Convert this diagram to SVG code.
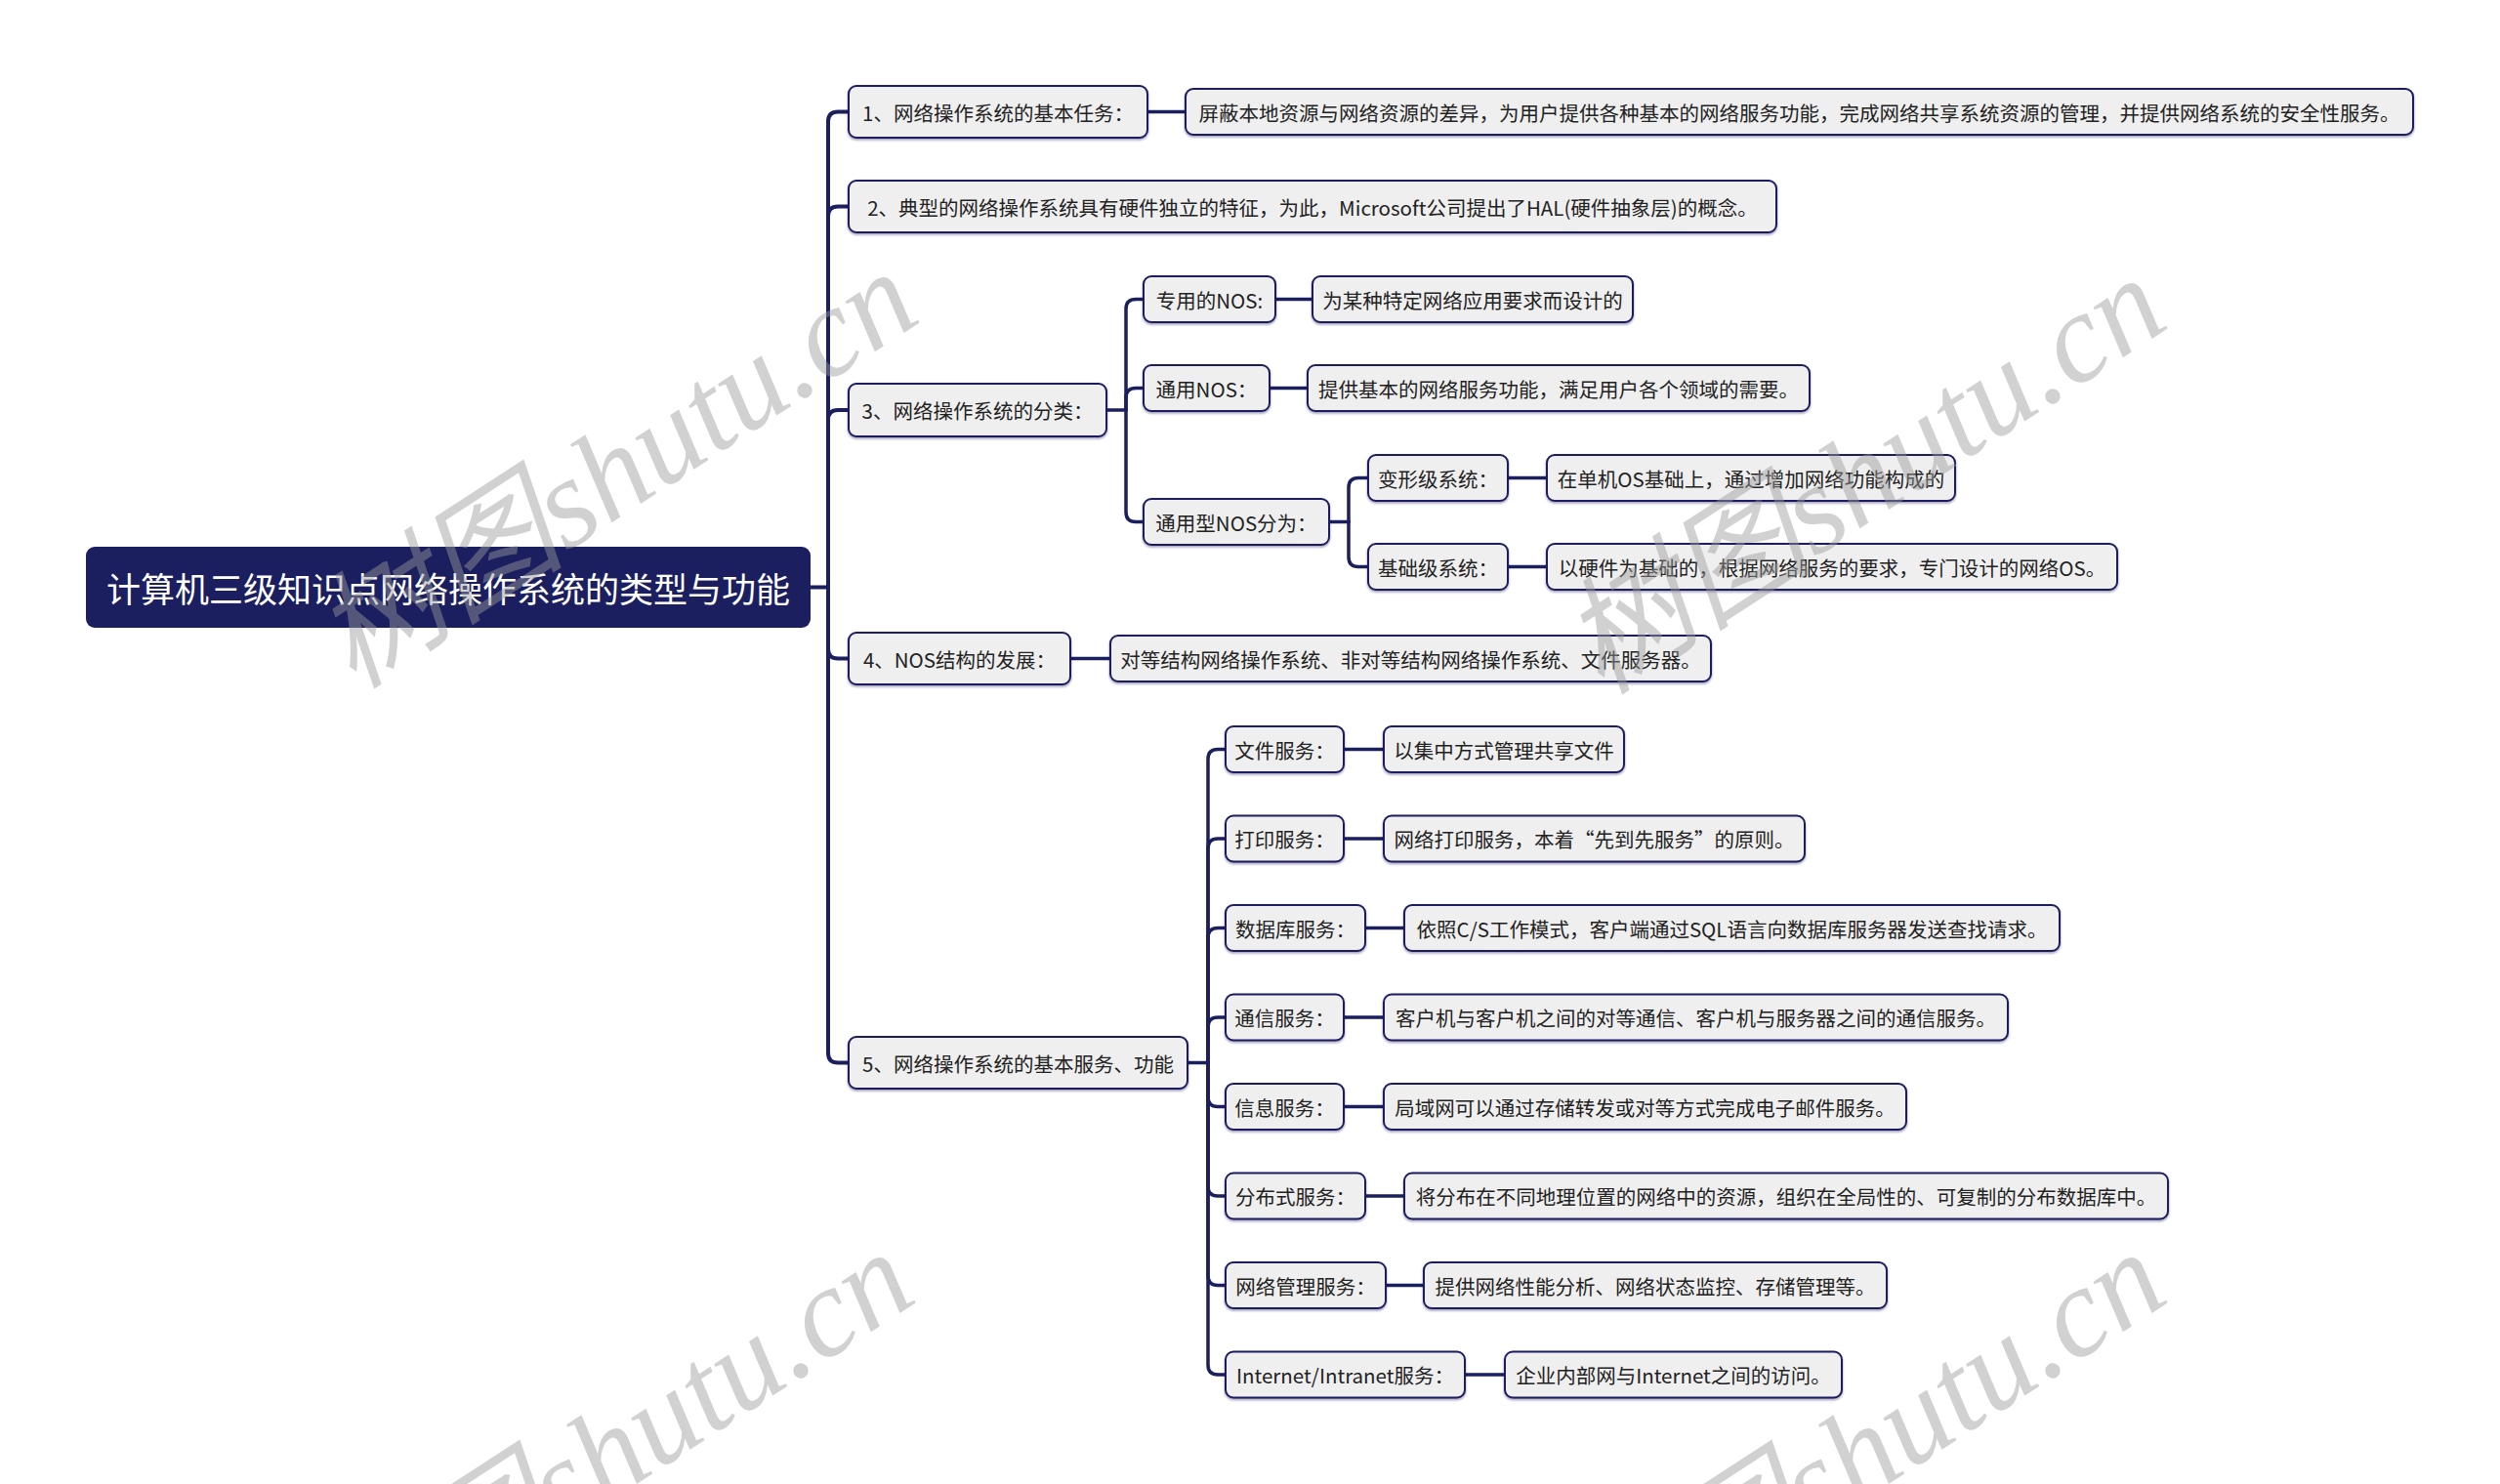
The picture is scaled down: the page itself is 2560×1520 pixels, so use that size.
<svg xmlns="http://www.w3.org/2000/svg" width="2560" height="1520" viewBox="0 0 2560 1520">
<style>
.bx{fill:#efefef;stroke:#1b1f5e;stroke-width:2}
.t{font-family:"Noto Sans CJK SC","Noto Sans",sans-serif;font-size:20.5px;fill:#222;text-anchor:middle;dominant-baseline:central}
.rt{font-family:"Noto Sans CJK SC","Noto Sans",sans-serif;font-size:35px;fill:#fff;text-anchor:middle;dominant-baseline:central}
.c{fill:none;stroke:#1b1f5e;stroke-width:3.5;stroke-linecap:round;stroke-linejoin:round}
.cm{fill:none;stroke:#1b1f5e;stroke-width:4;stroke-linecap:round}
.wm{font-family:"Liberation Serif","Noto Sans CJK SC",serif;font-style:italic;font-size:130px;fill:#9a9a9a;opacity:0.45}
</style>
<defs>
<filter id="sh" x="-5%" y="-20%" width="110%" height="150%">
<feDropShadow dx="0" dy="1.5" stdDeviation="1" flood-color="#1b1f5e" flood-opacity="0.45"/>
</filter>
</defs>
<rect width="2560" height="1520" fill="#fff"/>
<g id="connectors">
<path class="cm" d="M830 601.5H848"/>
<path class="cm" d="M848 601.5V124.5Q848 114.5 858 114.5H869"/>
<path class="cm" d="M848 601.5V221.5Q848 211.5 858 211.5H869"/>
<path class="cm" d="M848 601.5V430Q848 420 858 420H869"/>
<path class="cm" d="M848 601.5V664.5Q848 674.5 858 674.5H869"/>
<path class="cm" d="M848 601.5V1078.5Q848 1088.5 858 1088.5H869"/>
<path class="c" d="M1175 114.5H1214"/>
<path class="c" d="M1096 674.5H1137"/>
<path class="c" d="M1133 420H1153"/>
<path class="c" d="M1153 420V316.5Q1153 306.5 1163 306.5H1171"/>
<path class="c" d="M1153 420V407.5Q1153 397.5 1163 397.5H1171"/>
<path class="c" d="M1153 420V524.5Q1153 534.5 1163 534.5H1171"/>
<path class="c" d="M1306 306.5H1344"/>
<path class="c" d="M1300 397.5H1339"/>
<path class="c" d="M1361 534.5H1381"/>
<path class="c" d="M1381 534.5V499.5Q1381 489.5 1391 489.5H1401"/>
<path class="c" d="M1381 534.5V570.5Q1381 580.5 1391 580.5H1401"/>
<path class="c" d="M1544 489.5H1584"/>
<path class="c" d="M1544 580.5H1584"/>
<path class="c" d="M1216 1088.5H1237"/>
<path class="c" d="M1237 1088.5V777.5Q1237 767.5 1247 767.5H1255"/>
<path class="c" d="M1237 1088.5V869Q1237 859 1247 859H1255"/>
<path class="c" d="M1237 1088.5V960.5Q1237 950.5 1247 950.5H1255"/>
<path class="c" d="M1237 1088.5V1052Q1237 1042 1247 1042H1255"/>
<path class="c" d="M1237 1088.5V1123.5Q1237 1133.5 1247 1133.5H1255"/>
<path class="c" d="M1237 1088.5V1215Q1237 1225 1247 1225H1255"/>
<path class="c" d="M1237 1088.5V1306.5Q1237 1316.5 1247 1316.5H1255"/>
<path class="c" d="M1237 1088.5V1398Q1237 1408 1247 1408H1255"/>
<path class="c" d="M1376 767.5H1417"/>
<path class="c" d="M1376 859H1417"/>
<path class="c" d="M1398 950.5H1438"/>
<path class="c" d="M1376 1042H1417"/>
<path class="c" d="M1376 1133.5H1417"/>
<path class="c" d="M1398 1225H1438"/>
<path class="c" d="M1419 1316.5H1458"/>
<path class="c" d="M1500 1408H1541"/>
</g>
<g id="root"><rect x="88" y="560" width="742" height="83" rx="9" fill="#1b1f60"/><text class="rt" x="459" y="601.5">计算机三级知识点网络操作系统的类型与功能</text></g>
<g id="n1"><rect class="bx" filter="url(#sh)" x="869" y="88" width="306" height="53" rx="8"/><text class="t" x="1022" y="114.5">1、网络操作系统的基本任务：</text></g>
<g id="n1a"><rect class="bx" filter="url(#sh)" x="1214" y="91" width="1257" height="47" rx="8"/><text class="t" x="1842.5" y="114.5">屏蔽本地资源与网络资源的差异，为用户提供各种基本的网络服务功能，完成网络共享系统资源的管理，并提供网络系统的安全性服务。</text></g>
<g id="n2"><rect class="bx" filter="url(#sh)" x="869" y="185" width="950" height="53" rx="8"/><text class="t" x="1344" y="211.5">2、典型的网络操作系统具有硬件独立的特征，为此，Microsoft公司提出了HAL(硬件抽象层)的概念。</text></g>
<g id="n3"><rect class="bx" filter="url(#sh)" x="869" y="393" width="264" height="54" rx="8"/><text class="t" x="1001" y="420">3、网络操作系统的分类：</text></g>
<g id="n3a"><rect class="bx" filter="url(#sh)" x="1171" y="283" width="135" height="47" rx="8"/><text class="t" x="1238.5" y="306.5">专用的NOS:</text></g>
<g id="n3a1"><rect class="bx" filter="url(#sh)" x="1344" y="283" width="328" height="47" rx="8"/><text class="t" x="1508" y="306.5">为某种特定网络应用要求而设计的</text></g>
<g id="n3b"><rect class="bx" filter="url(#sh)" x="1171" y="374" width="129" height="47" rx="8"/><text class="t" x="1235.5" y="397.5">通用NOS：</text></g>
<g id="n3b1"><rect class="bx" filter="url(#sh)" x="1339" y="374" width="514" height="47" rx="8"/><text class="t" x="1596" y="397.5">提供基本的网络服务功能，满足用户各个领域的需要。</text></g>
<g id="n3c"><rect class="bx" filter="url(#sh)" x="1171" y="511" width="190" height="47" rx="8"/><text class="t" x="1266" y="534.5">通用型NOS分为：</text></g>
<g id="n3c1"><rect class="bx" filter="url(#sh)" x="1401" y="466" width="143" height="47" rx="8"/><text class="t" x="1472.5" y="489.5">变形级系统：</text></g>
<g id="n3c1a"><rect class="bx" filter="url(#sh)" x="1584" y="466" width="418" height="47" rx="8"/><text class="t" x="1793" y="489.5">在单机OS基础上，通过增加网络功能构成的</text></g>
<g id="n3c2"><rect class="bx" filter="url(#sh)" x="1401" y="557" width="143" height="47" rx="8"/><text class="t" x="1472.5" y="580.5">基础级系统：</text></g>
<g id="n3c2a"><rect class="bx" filter="url(#sh)" x="1584" y="557" width="584" height="47" rx="8"/><text class="t" x="1876" y="580.5">以硬件为基础的，根据网络服务的要求，专门设计的网络OS。</text></g>
<g id="n4"><rect class="bx" filter="url(#sh)" x="869" y="648" width="227" height="53" rx="8"/><text class="t" x="982.5" y="674.5">4、NOS结构的发展：</text></g>
<g id="n4a"><rect class="bx" filter="url(#sh)" x="1137" y="651" width="615" height="47" rx="8"/><text class="t" x="1444.5" y="674.5">对等结构网络操作系统、非对等结构网络操作系统、文件服务器。</text></g>
<g id="n5"><rect class="bx" filter="url(#sh)" x="869" y="1062" width="347" height="53" rx="8"/><text class="t" x="1042.5" y="1088.5">5、网络操作系统的基本服务、功能</text></g>
<g id="s1"><rect class="bx" filter="url(#sh)" x="1255" y="744" width="121" height="47" rx="8"/><text class="t" x="1315.5" y="767.5">文件服务：</text></g>
<g id="s1a"><rect class="bx" filter="url(#sh)" x="1417" y="744" width="246" height="47" rx="8"/><text class="t" x="1540" y="767.5">以集中方式管理共享文件</text></g>
<g id="s2"><rect class="bx" filter="url(#sh)" x="1255" y="835.5" width="121" height="47" rx="8"/><text class="t" x="1315.5" y="859">打印服务：</text></g>
<g id="s2a"><rect class="bx" filter="url(#sh)" x="1417" y="835.5" width="431" height="47" rx="8"/><text class="t" x="1632.5" y="859">网络打印服务，本着“先到先服务”的原则。</text></g>
<g id="s3"><rect class="bx" filter="url(#sh)" x="1255" y="927" width="143" height="47" rx="8"/><text class="t" x="1326.5" y="950.5">数据库服务：</text></g>
<g id="s3a"><rect class="bx" filter="url(#sh)" x="1438" y="927" width="671" height="47" rx="8"/><text class="t" x="1773.5" y="950.5">依照C/S工作模式，客户端通过SQL语言向数据库服务器发送查找请求。</text></g>
<g id="s4"><rect class="bx" filter="url(#sh)" x="1255" y="1018.5" width="121" height="47" rx="8"/><text class="t" x="1315.5" y="1042">通信服务：</text></g>
<g id="s4a"><rect class="bx" filter="url(#sh)" x="1417" y="1018.5" width="639" height="47" rx="8"/><text class="t" x="1736.5" y="1042">客户机与客户机之间的对等通信、客户机与服务器之间的通信服务。</text></g>
<g id="s5"><rect class="bx" filter="url(#sh)" x="1255" y="1110" width="121" height="47" rx="8"/><text class="t" x="1315.5" y="1133.5">信息服务：</text></g>
<g id="s5a"><rect class="bx" filter="url(#sh)" x="1417" y="1110" width="535" height="47" rx="8"/><text class="t" x="1684.5" y="1133.5">局域网可以通过存储转发或对等方式完成电子邮件服务。</text></g>
<g id="s6"><rect class="bx" filter="url(#sh)" x="1255" y="1201.5" width="143" height="47" rx="8"/><text class="t" x="1326.5" y="1225">分布式服务：</text></g>
<g id="s6a"><rect class="bx" filter="url(#sh)" x="1438" y="1201.5" width="782" height="47" rx="8"/><text class="t" x="1829" y="1225">将分布在不同地理位置的网络中的资源，组织在全局性的、可复制的分布数据库中。</text></g>
<g id="s7"><rect class="bx" filter="url(#sh)" x="1255" y="1293" width="164" height="47" rx="8"/><text class="t" x="1337" y="1316.5">网络管理服务：</text></g>
<g id="s7a"><rect class="bx" filter="url(#sh)" x="1458" y="1293" width="474" height="47" rx="8"/><text class="t" x="1695" y="1316.5">提供网络性能分析、网络状态监控、存储管理等。</text></g>
<g id="s8"><rect class="bx" filter="url(#sh)" x="1255" y="1384.5" width="245" height="47" rx="8"/><text class="t" x="1377.5" y="1408">Internet/Intranet服务：</text></g>
<g id="s8a"><rect class="bx" filter="url(#sh)" x="1541" y="1384.5" width="345" height="47" rx="8"/><text class="t" x="1713.5" y="1408">企业内部网与Internet之间的访问。</text></g>
<g id="watermarks">
<text class="wm" transform="translate(362,707) rotate(-33)">树图shutu.cn</text>
<text class="wm" transform="translate(1640,713) rotate(-33)">树图shutu.cn</text>
<text class="wm" transform="translate(358,1711) rotate(-33)">树图shutu.cn</text>
<text class="wm" transform="translate(1640,1711) rotate(-33)">树图shutu.cn</text>
</g>
</svg>
